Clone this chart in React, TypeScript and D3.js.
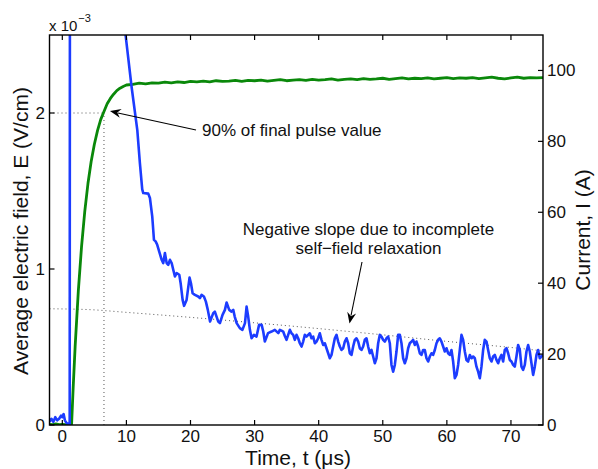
import React from "react";
import * as d3 from "d3";

// ---------- data ----------
// Time axis ticks (µs)
const xTicks = [0, 10, 20, 30, 40, 50, 60, 70];
// Left axis ticks (×10^-3 V/cm)
const leftTicks = [0, 1, 2];
// Right axis ticks (A)
const rightTicks = [0, 20, 40, 60, 80, 100];

// Blue: average electric field E (units of 1e-3 V/cm)
const blueT = [
  -2.0, -1.7, -1.4, -1.1, -0.8, -0.5, -0.2, 0.0, 0.2, 0.4, 0.7, 1.0, 1.15,
  1.2, 1.3, 3.0, 6.0, 8.0, 9.0, 9.9, 10.8, 11.7, 12.1,
  12.47, 12.63, 13.41, 13.67, 14.03, 14.3, 14.56, 14.81, 15.12, 15.5, 15.75,
  16.01, 16.28, 16.53, 16.79, 17.06, 17.31, 17.57, 17.84, 18.25, 18.46, 18.77,
  19.0, 19.39, 19.85, 20.07, 20.33, 20.69, 21.2, 21.47, 21.73, 22.09, 22.4,
  22.7, 23.05, 23.55, 23.8, 24.33, 24.59, 25.0, 25.37, 25.63, 26.04, 26.4,
  26.67, 26.9, 27.2, 27.7, 28.1, 28.5, 28.75, 29.0, 29.27, 29.53, 29.9, 30.3,
  30.7, 31.1, 31.35, 31.6, 32.1, 32.65, 33.16, 33.7,
  33.94, 34.2, 34.46, 34.72, 34.98, 35.24, 35.5, 35.76, 36.02, 36.28, 36.54,
  36.8, 37.06, 37.32, 37.58, 37.84, 38.1, 38.36, 38.62, 38.88, 39.14, 39.4,
  39.66, 39.92, 40.18, 40.44, 40.7, 40.96, 41.22, 41.48, 41.74, 42.0, 42.26,
  42.52, 42.78, 43.04, 43.3, 43.56, 43.82, 44.08, 44.34, 44.6, 44.86, 45.12,
  45.38, 45.64, 45.9, 46.16, 46.42, 46.68, 46.94, 47.2, 47.46, 47.72, 47.98,
  48.24, 48.5, 48.76, 49.02, 49.28, 49.54, 49.8, 50.06, 50.32, 50.58, 50.84,
  51.1, 51.36, 51.62, 51.88, 52.14, 52.4, 52.66, 52.92, 53.18, 53.44, 53.7,
  53.96, 54.22, 54.48, 54.74, 55.0, 55.26, 55.52, 55.78, 56.04, 56.3, 56.56,
  56.82, 57.08, 57.34, 57.6, 57.86, 58.12, 58.38, 58.64, 58.9, 59.16, 59.42,
  59.68, 59.94, 60.2, 60.46, 60.72, 60.98, 61.24, 61.5, 61.76, 62.02, 62.28,
  62.54, 62.8, 63.06, 63.32, 63.58, 63.84, 64.1, 64.36, 64.62, 64.88, 65.14,
  65.4, 65.66, 65.92, 66.18, 66.44, 66.7, 66.96, 67.22, 67.48, 67.74, 68.0,
  68.26, 68.52, 68.78, 69.04, 69.3, 69.56, 69.82, 70.08, 70.34, 70.6, 70.86,
  71.12, 71.38, 71.64, 71.9, 72.16, 72.42, 72.68, 72.94, 73.2, 73.46, 73.72,
  73.98, 74.24, 74.5, 74.76, 75.0,
];
const blueE = [
  0.02, 0.04, 0.02, 0.05, 0.03, 0.04, 0.06, 0.05, 0.07, 0.03, 0.01, 0.01, 0.0,
  4.0, 9.0, 8.0, 5.0, 3.4, 2.9, 2.49, 2.17, 1.89, 1.68,
  1.51, 1.487, 1.483, 1.455, 1.337, 1.187, 1.177, 1.155, 1.112, 1.059, 1.038,
  1.102, 1.038, 1.027, 1.059, 1.038, 0.995, 0.952, 0.974, 0.963, 0.909, 0.802,
  0.764, 0.802, 0.945, 0.909, 0.845, 0.834, 0.824, 0.813, 0.834, 0.824, 0.791,
  0.738, 0.663, 0.717, 0.727, 0.663, 0.653, 0.706, 0.738, 0.785, 0.738, 0.727,
  0.738, 0.695, 0.653, 0.621, 0.61, 0.653, 0.759, 0.695, 0.61, 0.556, 0.578, 0.567,
  0.642, 0.642, 0.599, 0.535, 0.589, 0.599, 0.61, 0.589,
  0.61, 0.605, 0.599, 0.571, 0.546, 0.578, 0.61, 0.588, 0.578, 0.546, 0.578,
  0.556, 0.524, 0.503, 0.535, 0.578, 0.567, 0.578, 0.588, 0.556, 0.567, 0.524,
  0.535, 0.556, 0.588, 0.546, 0.513, 0.524, 0.492, 0.46, 0.428, 0.449, 0.503,
  0.556, 0.578, 0.535, 0.503, 0.481, 0.492, 0.535, 0.556, 0.524, 0.46, 0.449,
  0.503, 0.546, 0.556, 0.535, 0.492, 0.481, 0.503, 0.546, 0.556, 0.503, 0.46,
  0.481, 0.439, 0.396, 0.428, 0.524, 0.578, 0.567, 0.546, 0.535, 0.556, 0.567,
  0.524, 0.385, 0.342, 0.385, 0.471, 0.578, 0.578, 0.524, 0.428, 0.396, 0.428,
  0.492, 0.524, 0.535, 0.546, 0.513, 0.535, 0.503, 0.46, 0.449, 0.481, 0.481,
  0.428, 0.407, 0.439, 0.46, 0.449, 0.481, 0.524, 0.546, 0.556, 0.535, 0.503,
  0.471, 0.492, 0.46, 0.449, 0.481, 0.407, 0.3, 0.321, 0.385, 0.481, 0.578,
  0.546, 0.471, 0.417, 0.407, 0.449, 0.428, 0.439, 0.428, 0.374, 0.342, 0.3,
  0.374, 0.481, 0.546, 0.535, 0.481, 0.428, 0.407, 0.439, 0.449, 0.417, 0.396,
  0.428, 0.449, 0.407, 0.481, 0.492, 0.46, 0.417, 0.407, 0.385, 0.374, 0.439,
  0.513, 0.481, 0.374, 0.353, 0.385, 0.471, 0.513, 0.471, 0.396, 0.321, 0.374,
  0.449, 0.481, 0.428, 0.439, 0.45,
];

// Green: current I (A)
const greenT = [
  -2, -1.5, -1, -0.5, 0, 0.5, 1, 1.45, 1.7, 2, 2.5, 3, 3.5, 4, 4.5, 5, 5.5, 6,
  6.5, 7, 7.5, 8, 8.5, 9, 9.5, 10, 11, 12, 13, 14, 15, 16, 17, 18, 19, 20, 21,
  22, 23, 24, 25, 26, 27, 28, 29, 30, 31, 32, 33, 34, 35, 36, 37, 38, 39, 40,
  41, 42, 43, 44, 45, 46, 47, 48, 49, 50, 51, 52, 53, 54, 55, 56, 57, 58, 59,
  60, 61, 62, 63, 64, 65, 66, 67, 68, 69, 70, 71, 72, 73, 74, 75,
];
const greenI = [
  0.2, 0.1, 0.3, 0.1, 0.2, 0.1, 0.2, 0.3, 10.8, 22.1, 37.9, 50.3, 60.2, 68.1,
  74.3, 79.2, 83.1, 86.2, 88.4, 90.6, 92.1, 93.3, 94.3, 95.0, 95.5, 95.9, 96.1,
  96.4, 96.2, 96.5, 96.4, 96.7, 96.5, 96.8, 96.6, 96.9, 96.8, 97.0, 96.8, 97.1,
  96.9, 97.0, 97.2, 96.9, 97.2, 97.1, 97.3, 97.0, 97.2, 97.4, 97.1, 97.3, 97.4,
  97.2, 97.5, 97.3, 97.4, 97.6, 97.3, 97.5, 97.6, 97.4, 97.7, 97.5, 97.6, 97.8,
  97.5, 97.7, 97.9, 97.6, 97.8, 97.7, 97.9, 97.6, 97.8, 98.0, 97.7, 97.9, 97.8,
  98.0, 97.7, 97.9, 98.1, 97.8, 97.6, 97.9, 98.1, 97.8, 98.0, 97.9, 98.0,
];

// Dotted relaxation trend (units of 1e-3 V/cm)
const trendT = [-2, 4, 10, 20, 30, 40, 50, 60, 70, 75];
const trendE = [0.745, 0.74, 0.722, 0.69, 0.655, 0.618, 0.578, 0.536, 0.497, 0.475];

// 90% marker
const ninetyT = 6.5;
const ninetyE = 2.0;

// ---------- layout ----------
const W = 598;
const H = 469;
const L = 49.5;
const R = 543;
const T = 35;
const B = 425;
const FONT = "'Liberation Sans', Arial, Helvetica, sans-serif";

const x = d3.scaleLinear().domain([-2, 75]).range([L, R]);
const yL = d3.scaleLinear().domain([0, 2.5]).range([B, T]);
const yR = d3.scaleLinear().domain([0, 110]).range([B, T]);

function arrowHead(tx: number, ty: number, fx: number, fy: number) {
  const dx = fx - tx;
  const dy = fy - ty;
  const len = Math.hypot(dx, dy);
  const ux = dx / len;
  const uy = dy / len;
  const px = -uy;
  const py = ux;
  const hl = 11;
  const hw = 4.5;
  const nl = 7.5;
  const p1 = [tx + ux * hl + px * hw, ty + uy * hl + py * hw];
  const p2 = [tx + ux * nl, ty + uy * nl];
  const p3 = [tx + ux * hl - px * hw, ty + uy * hl - py * hw];
  return `M${tx},${ty}L${p1[0]},${p1[1]}L${p2[0]},${p2[1]}L${p3[0]},${p3[1]}Z`;
}

export default function App() {
  const blueLine = d3
    .line<number>()
    .x((_, i) => x(blueT[i]))
    .y((d) => yL(d))(blueE) as string;
  const greenLine = d3
    .line<number>()
    .x((_, i) => x(greenT[i]))
    .y((d) => yR(d))(greenI) as string;
  const trendLine = d3
    .line<number>()
    .curve(d3.curveMonotoneX)
    .x((_, i) => x(trendT[i]))
    .y((d) => yL(d))(trendE) as string;

  const a1 = { fx: 196, fy: 130, tx: x(ninetyT) + 6, ty: yL(ninetyE) - 2 };
  const a2 = { fx: 362, fy: 262, tx: 349.5, ty: 323.5 };

  return (
    <svg
      width={W}
      height={H}
      style={{ position: "absolute", left: 0, top: 0, background: "#fff" }}
      fontFamily={FONT}
    >
      <defs>
        <clipPath id="plot">
          <rect x={L} y={T} width={R - L} height={B - T} />
        </clipPath>
      </defs>
      <rect x={0} y={0} width={W} height={H} fill="#fff" />

      {/* dotted guides */}
      <g stroke="#555" strokeWidth={1} strokeDasharray="1 3" fill="none">
        <line x1={L} x2={x(ninetyT)} y1={yL(ninetyE)} y2={yL(ninetyE)} />
        <line x1={x(ninetyT)} x2={x(ninetyT)} y1={B} y2={yL(ninetyE)} />
        <path d={trendLine} clipPath="url(#plot)" />
      </g>

      {/* data */}
      <g clipPath="url(#plot)" fill="none" strokeLinejoin="round">
        <path d={greenLine} stroke="#0a880a" strokeWidth={2.8} />
        <path d={blueLine} stroke="#1c3cff" strokeWidth={2.6} />
      </g>

      {/* axes box */}
      <rect x={L} y={T} width={R - L} height={B - T} fill="none" stroke="#000" strokeWidth={1.4} />

      {/* ticks */}
      <g stroke="#000" strokeWidth={1.2}>
        {xTicks.map((t) => (
          <g key={"xt" + t}>
            <line x1={x(t)} x2={x(t)} y1={B} y2={B - 5} />
            <line x1={x(t)} x2={x(t)} y1={T} y2={T + 5} />
          </g>
        ))}
        {leftTicks.map((t) => (
          <line key={"lt" + t} x1={L} x2={L + 5} y1={yL(t)} y2={yL(t)} />
        ))}
        {rightTicks.map((t) => (
          <line key={"rt" + t} x1={R} x2={R - 5} y1={yR(t)} y2={yR(t)} />
        ))}
      </g>

      <g fontSize={17} fill="#111">
        {xTicks.map((t) => (
          <text key={"xl" + t} x={x(t)} y={442} textAnchor="middle">
            {t}
          </text>
        ))}
        {leftTicks.map((t) => (
          <text key={"ll" + t} x={45} y={yL(t)} dy="0.35em" textAnchor="end">
            {t}
          </text>
        ))}
        {rightTicks.map((t) => (
          <text key={"rl" + t} x={547} y={yR(t)} dy="0.35em" textAnchor="start">
            {t}
          </text>
        ))}
      </g>

      {/* exponent */}
      <text x={49} y={31} fontSize={15} fill="#111">
        x 10
        <tspan fontSize={11} dy={-9} dx={1}>
          −3
        </tspan>
      </text>

      {/* axis labels */}
      <text x={298} y={465} fontSize={21} textAnchor="middle" fill="#111">
        Time, t (μs)
      </text>
      <text
        transform={`translate(28,${(T + B) / 2 + 1}) rotate(-90)`}
        fontSize={21}
        textAnchor="middle"
        fill="#111"
      >
        Average electric field, E (V/cm)
      </text>
      <text
        transform={`translate(590,${(T + B) / 2}) rotate(-90)`}
        fontSize={21}
        textAnchor="middle"
        fill="#111"
      >
        Current, I (A)
      </text>

      {/* annotations */}
      <g fontSize={17} fill="#111">
        <text x={202} y={136}>90% of final pulse value</text>
        <text x={368.5} y={235} textAnchor="middle">
          Negative slope due to incomplete
        </text>
        <text x={368.5} y={253.5} textAnchor="middle">
          self−field relaxation
        </text>
      </g>
      <g stroke="#000" strokeWidth={1.1}>
        <line x1={a1.fx} y1={a1.fy} x2={a1.tx + 8} y2={a1.ty + 2} />
        <line x1={a2.fx} y1={a2.fy} x2={a2.tx + 1.5} y2={a2.ty - 8} />
      </g>
      <path d={arrowHead(a1.tx, a1.ty, a1.fx, a1.fy)} fill="#000" />
      <path d={arrowHead(a2.tx, a2.ty, a2.fx, a2.fy)} fill="#000" />
    </svg>
  );
}
